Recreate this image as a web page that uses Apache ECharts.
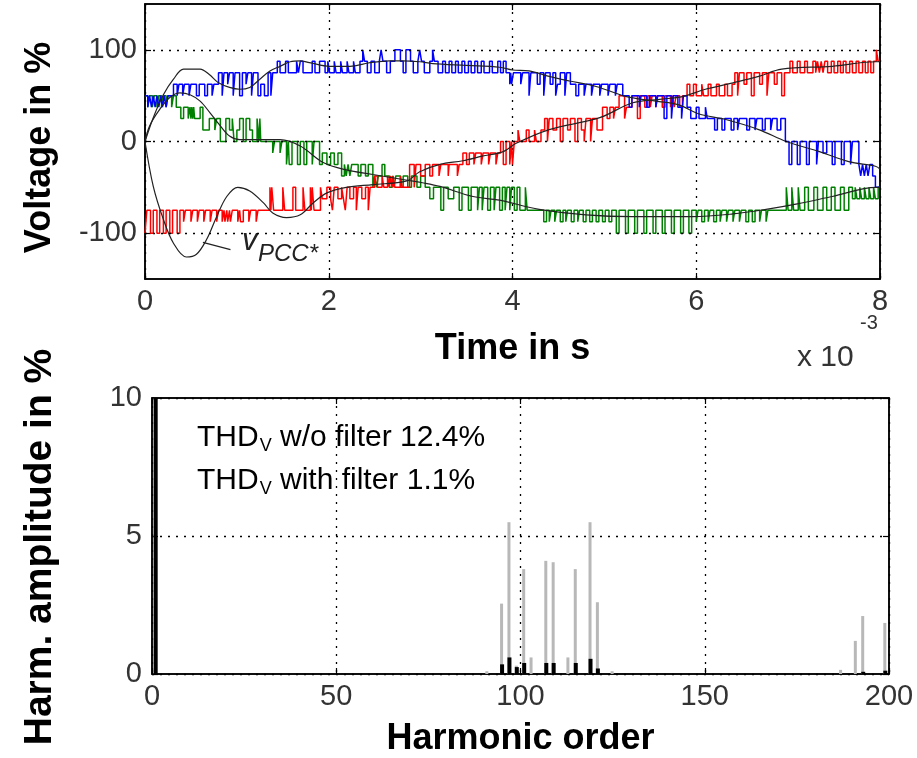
<!DOCTYPE html>
<html><head><meta charset="utf-8">
<script src="https://cdn.jsdelivr.net/npm/echarts@6/dist/echarts.min.js"></script>
<style>html,body{margin:0;padding:0;background:#fff}#c{width:917px;height:758px}</style>
</head><body><div id="c"></div>
<script>
// ---- top plot: stepped phase voltages [time in ms, voltage %] ----
const blueSteps = [[0,50],[0.03,37.5],[0.05,50],[0.07,37.5],[0.09,50],[0.11,37.5],[0.13,50],[0.15,37.5],[0.17,50],[0.19,37.5],[0.21,50],[0.23,37.5],[0.25,50],
[0.31,62.5],[0.35,50],[0.37,62.5],[0.41,50],[0.43,62.5],[0.48,50],[0.50,62.5],[0.56,50],[0.59,62.5],[0.65,50],[0.68,62.5],[0.73,50],[0.75,62.5],
[0.80,75],[0.84,50],[0.86,75],[0.90,62.5],[0.92,75],[0.96,50],[0.98,75],[1.03,50],[1.06,75],[1.10,62.5],[1.12,75],[1.16,50],[1.18,75],[1.23,50],[1.26,62.5],[1.30,50],[1.34,75],[1.37,50],[1.39,75],
[1.44,87.5],[1.47,75],[1.53,87.5],[1.56,75],[1.65,87.5],[1.67,75],[1.69,87.5],[1.72,75],[1.82,87.5],[1.85,75],[1.90,87.5],[1.96,75],[1.99,87.5],[2.01,75],[2.06,87.5],[2.08,75],[2.13,87.5],[2.15,75],[2.20,87.5],[2.22,75],[2.27,87.5],[2.29,75],[2.34,87.5],[2.37,100],[2.39,87.5],[2.42,75],[2.46,87.5],[2.50,75],[2.55,87.5],[2.57,100],[2.59,87.5],[2.63,75],[2.67,87.5],[2.72,100],[2.78,87.5],[2.81,75],[2.84,100],[2.89,87.5],[2.92,75],[2.97,87.5],[2.99,100],[3.01,87.5],[3.04,75],[3.10,87.5],[3.13,100],[3.15,87.5],[3.19,75],[3.24,87.5],[3.27,75],[3.31,87.5],[3.34,75],[3.38,87.5],[3.41,75],[3.45,87.5],[3.48,75],[3.52,87.5],[3.55,75],[3.59,87.5],[3.62,75],[3.66,87.5],[3.69,75],[3.75,87.5],[3.78,75],[3.84,87.5],[3.87,75],[3.90,87.5],[3.93,75],
[3.97,62.5],[3.98,75],[3.99,62.5],[4.01,75],[4.09,62.5],[4.11,75],[4.18,50],[4.20,75],[4.27,62.5],[4.30,75],[4.34,50],[4.36,75],[4.41,62.5],[4.44,75],[4.47,50],[4.49,62.5],[4.52,75],[4.57,50],[4.59,75],[4.63,62.5],[4.69,50],[4.72,62.5],[4.78,50],[4.80,62.5],[4.86,50],[4.88,62.5],[4.95,50],[4.97,62.5],[5.04,50],[5.06,62.5],[5.12,50],[5.14,62.5],[5.20,50],[5.27,37.5],[5.30,50],[5.38,37.5],[5.40,50],[5.46,37.5],[5.49,50],[5.56,37.5],[5.58,50],[5.65,25],[5.68,50],[5.73,25],[5.75,50],[5.80,37.5],[5.84,25],[5.86,50],[5.90,37.5],[5.94,25],[6.00,37.5],[6.03,25],[6.10,37.5],[6.12,25],
[6.20,12.5],[6.23,25],[6.28,12.5],[6.31,25],[6.38,12.5],[6.41,25],[6.45,12.5],[6.47,25],[6.55,12.5],[6.58,25],[6.64,12.5],[6.66,25],[6.72,12.5],[6.75,25],[6.81,12.5],[6.83,25],[6.88,12.5],[6.92,25],[6.97,0],[7.01,-25],[7.04,0],[7.10,-25],[7.13,0],[7.20,-25],[7.23,0],[7.31,-25],[7.33,0],[7.38,-12.5],[7.42,0],[7.48,-25],[7.51,0],[7.58,-25],[7.61,0],[7.68,-25],[7.70,0],[7.77,-25],[7.79,-37.5],[7.81,-25],[7.83,-37.5],[7.85,-25],[7.87,-37.5],[7.89,-25],[7.92,-37.5],[7.95,-50],[8,-50]];

const redSteps = [[0,-100],[0.02,-75],[0.06,-100],[0.09,-75],[0.13,-100],[0.16,-75],[0.20,-100],[0.23,-75],[0.27,-100],[0.30,-75],[0.35,-100],[0.38,-75],
[0.42,-87.5],[0.44,-75],[0.50,-87.5],[0.52,-75],[0.57,-87.5],[0.59,-75],[0.64,-87.5],[0.66,-75],[0.71,-87.5],[0.73,-75],[0.78,-87.5],[0.80,-75],[0.84,-87.5],[0.86,-75],[0.87,-87.5],[0.89,-75],[0.90,-87.5],[0.92,-75],[0.93,-87.5],[0.95,-75],[1.01,-87.5],[1.03,-75],[1.04,-87.5],[1.07,-75],[1.13,-87.5],[1.15,-75],[1.21,-87.5],[1.23,-75],
[1.36,-50],[1.37,-75],[1.38,-50],[1.40,-75],[1.50,-50],[1.52,-75],[1.61,-50],[1.64,-75],[1.72,-50],[1.74,-75],[1.80,-50],[1.81,-75],[1.82,-50],[1.84,-75],[1.91,-50],[1.93,-62.5],[1.98,-50],[2.02,-62.5],[2.04,-75],[2.06,-50],[2.10,-62.5],[2.14,-50],[2.16,-62.5],[2.18,-75],[2.20,-50],[2.23,-62.5],[2.27,-50],[2.30,-75],[2.32,-50],[2.36,-62.5],[2.40,-50],[2.43,-75],[2.45,-50],
[2.50,-37.5],[2.53,-50],[2.58,-37.5],[2.60,-50],[2.64,-37.5],[2.66,-50],[2.67,-37.5],[2.69,-50],[2.70,-37.5],[2.72,-50],[2.78,-37.5],[2.80,-50],
[2.88,-25],[2.93,-50],[2.95,-25],[3.00,-37.5],[3.05,-25],[3.10,-37.5],[3.13,-25],[3.20,-37.5],[3.22,-25],[3.30,-37.5],[3.31,-25],[3.40,-37.5],[3.42,-25],
[3.46,-12.5],[3.50,-25],[3.53,-12.5],[3.58,-25],[3.60,-12.5],[3.66,-25],[3.68,-12.5],[3.74,-25],[3.76,-12.5],[3.82,-25],[3.84,-12.5],[3.87,0],[3.90,-25],[3.93,0],[3.97,-25],[3.99,0],[4.00,-25],[4.02,0],[4.06,12.5],[4.08,0],[4.15,12.5],[4.18,0],[4.24,12.5],[4.26,0],[4.31,12.5],
[4.35,25],[4.38,0],[4.40,25],[4.44,12.5],[4.48,25],[4.52,0],[4.55,25],[4.60,12.5],[4.63,25],[4.68,0],[4.71,25],[4.75,12.5],[4.78,0],[4.80,25],[4.85,0],[4.87,25],[4.92,12.5],
[4.98,37.5],[5.03,25],[5.06,37.5],[5.10,25],[5.12,37.5],[5.16,50],[5.22,25],[5.24,37.5],[5.30,50],[5.36,25],[5.39,50],[5.44,37.5],[5.47,50],[5.50,37.5],[5.52,50],[5.56,37.5],[5.58,50],[5.63,37.5],[5.66,50],[5.72,37.5],[5.74,50],[5.76,37.5],[5.78,50],[5.82,37.5],[5.85,50],
[5.90,62.5],[5.93,50],[5.97,62.5],[6.00,50],[6.06,62.5],[6.08,50],[6.13,62.5],[6.16,50],[6.22,62.5],[6.25,50],[6.31,62.5],[6.34,50],[6.39,62.5],
[6.42,75],[6.45,50],[6.47,75],[6.52,62.5],[6.55,75],[6.60,50],[6.63,75],[6.69,62.5],[6.72,75],[6.77,50],[6.79,75],[6.85,62.5],[6.88,75],[6.93,50],[6.96,75],[7.02,87.5],[7.05,75],[7.10,87.5],[7.13,75],[7.18,87.5],[7.21,75],[7.27,87.5],
[7.30,75],[7.32,87.5],[7.34,75],[7.36,87.5],[7.38,75],[7.40,87.5],[7.43,75],[7.47,87.5],[7.50,75],[7.54,87.5],[7.57,75],[7.60,87.5],[7.63,75],[7.67,87.5],[7.70,75],[7.74,87.5],[7.77,75],[7.81,87.5],[7.84,75],[7.87,87.5],[7.90,75],[7.93,87.5],[7.96,100],[7.98,87.5],[8,87.5]];

const greenSteps = [[0,50],[0.03,37.5],[0.05,50],[0.08,37.5],[0.10,50],[0.13,37.5],[0.15,50],[0.18,37.5],[0.20,50],[0.23,37.5],[0.25,50],[0.29,37.5],[0.31,50],
[0.34,37.5],[0.39,25],[0.42,37.5],[0.47,25],[0.49,37.5],[0.50,25],[0.51,37.5],[0.52,25],[0.53,37.5],[0.54,25],[0.60,37.5],[0.63,12.5],[0.70,25],[0.76,12.5],[0.78,25],[0.82,0],[0.88,25],[0.92,12.5],[0.95,25],[0.97,0],[1.00,12.5],[1.03,25],[1.07,0],[1.10,25],[1.14,12.5],[1.17,0],[1.22,25],[1.24,0],[1.25,25],[1.26,0],
[1.39,-12.5],[1.41,0],[1.47,-12.5],[1.49,0],[1.54,-25],[1.56,0],[1.57,-25],[1.60,0],[1.66,-25],[1.69,0],[1.73,-25],[1.76,0],[1.82,-25],[1.84,0],[1.90,-25],[1.93,-12.5],[1.98,-25],[2.02,-12.5],[2.06,-25],[2.10,-12.5],
[2.14,-37.5],[2.17,-25],[2.19,-37.5],[2.21,-25],[2.23,-37.5],[2.25,-25],[2.32,-37.5],[2.35,-25],[2.40,-37.5],[2.43,-25],[2.48,-50],[2.50,-37.5],[2.52,-50],[2.54,-37.5],[2.58,-25],[2.61,-37.5],[2.66,-50],[2.69,-37.5],[2.71,-50],[2.73,-37.5],[2.78,-50],[2.81,-37.5],[2.86,-50],[2.90,-37.5],[2.96,-50],[3.00,-37.5],[3.05,-50],
[3.10,-62.5],[3.14,-50],[3.22,-75],[3.25,-50],[3.30,-62.5],[3.36,-50],[3.42,-75],[3.45,-50],[3.52,-75],[3.55,-50],[3.62,-75],[3.64,-50],[3.67,-75],[3.69,-50],[3.73,-75],[3.76,-50],[3.80,-75],[3.82,-50],[3.86,-75],[3.89,-50],[3.92,-75],[3.94,-50],[3.97,-75],[3.99,-50],[4.02,-75],[4.05,-50],[4.08,-75],[4.14,-50],[4.16,-75],
[4.34,-87.5],[4.37,-75],[4.40,-87.5],[4.42,-75],[4.46,-87.5],[4.48,-75],[4.52,-87.5],[4.55,-75],[4.58,-87.5],[4.60,-75],[4.64,-87.5],[4.67,-75],[4.71,-87.5],[4.73,-75],[4.77,-87.5],[4.80,-75],[4.84,-87.5],[4.87,-75],[4.91,-87.5],[4.94,-75],[4.98,-87.5],[5.01,-75],[5.05,-87.5],[5.08,-75],
[5.13,-100],[5.16,-75],[5.23,-100],[5.26,-75],[5.33,-100],[5.36,-75],[5.43,-100],[5.46,-75],[5.53,-100],[5.56,-75],[5.63,-100],[5.66,-75],[5.73,-100],[5.76,-75],[5.83,-100],[5.86,-75],[5.92,-100],[5.95,-75],
[6.00,-87.5],[6.02,-75],[6.06,-87.5],[6.09,-75],[6.13,-87.5],[6.15,-75],[6.19,-87.5],[6.22,-75],[6.26,-87.5],[6.28,-75],[6.33,-87.5],[6.35,-75],[6.40,-87.5],[6.42,-75],[6.47,-87.5],[6.49,-75],[6.54,-87.5],[6.57,-75],[6.61,-87.5],[6.64,-75],[6.69,-87.5],[6.71,-75],[6.76,-87.5],[6.78,-75],
[6.98,-50],[7.00,-75],[7.04,-50],[7.06,-75],[7.11,-50],[7.13,-75],[7.18,-50],[7.22,-75],[7.28,-50],[7.32,-75],[7.38,-50],[7.42,-75],[7.47,-50],[7.51,-75],[7.57,-50],[7.61,-75],[7.66,-50],[7.70,-62.5],[7.73,-50],[7.75,-62.5],[7.78,-50],[7.80,-62.5],[7.83,-50],[7.85,-62.5],[7.88,-50],[7.90,-62.5],[7.93,-50],[7.95,-62.5],[7.98,-50],[8,-50]];

// ---- top plot: filtered voltages (black) [time in ms, voltage %] ----
const blueFiltered = [[0,0],[0.09,26],[0.2,51],[0.31,68],[0.42,79],[0.6,79],[0.7,73],[0.8,64],[0.92,59],[1.03,57],[1.14,59],[1.25,68],[1.36,77],[1.47,82],[1.58,87],[1.69,88],[1.79,86],[2.01,82],[2.23,82],[2.45,86],[2.66,88],[2.8,88],[2.99,87],[3.13,85],[3.5,83],[3.86,81],[4.0,78],[4.18,77],[4.4,71],[4.62,66],[4.91,60],[5.24,49],[5.56,44],[5.81,40],[6.03,30],[6.32,24],[6.68,13],[6.98,0],[7.34,-11],[7.66,-22],[7.95,-27],[8,-30]];
const greenFiltered = [[0,0],[0.05,17],[0.16,35],[0.27,48],[0.38,53],[0.49,51],[0.6,44],[0.71,31],[0.82,17],[0.92,6],[1.03,2],[1.25,2],[1.47,2],[1.69,-5],[1.94,-23],[2.19,-31],[2.48,-36],[2.84,-42],[3.02,-45],[3.21,-49],[3.57,-60],[3.86,-64],[4.29,-74],[4.8,-80],[5.3,-82],[5.96,-82],[6.4,-79],[6.76,-74],[7.1,-68],[7.48,-60],[7.96,-50],[8,-50]];
const redFiltered = [[0,0],[0.09,-49],[0.2,-85],[0.31,-111],[0.45,-126],[0.56,-123],[0.67,-107],[0.78,-82],[0.89,-60],[1.01,-50],[1.14,-54],[1.29,-67],[1.39,-78],[1.54,-83],[1.69,-80],[1.83,-67],[1.98,-56],[2.19,-50],[2.48,-47],[2.85,-43],[2.99,-33],[3.21,-25],[3.46,-21],[3.67,-16],[3.9,-11],[4.04,-2],[4.4,13],[4.95,26],[5.3,42],[5.6,46],[5.85,49],[6.1,57],[6.4,64],[6.68,71],[6.93,79],[7.48,82],[7.96,87],[8,87]];
const pccLabelLeader = [[0.63,-110],[0.93,-118]];
const voltTicks = [-100, 0, 100];

// ---- bottom plot: harmonic spectrum ----
const harmOrders   = [1, 91, 95, 97, 99, 101, 103, 107, 109, 113, 115, 119, 121, 125, 187, 191, 193, 199];
const harmNoFilter = [100, 0.1, 2.55, 5.5, 0.3, 3.8, 0.6, 4.1, 4.05, 0.6, 3.8, 5.5, 2.6, 0.1, 0.15, 1.2, 2.1, 1.85];
const harmFilter   = [100, 0, 0.35, 0.6, 0.25, 0.4, 0, 0.4, 0.4, 0, 0.4, 0.55, 0.2, 0, 0, 0, 0.08, 0.12];
const thdLines = [['THD', 'V', ' w/o filter 12.4%'], ['THD', 'V', ' with filter 1.1%']];

const FONT = '"Liberation Sans", Arial, sans-serif';
const dotted = {type:[2,6], color:'#000', width:1.3};
const lbl = {fontFamily:FONT, fontSize:29, color:'#333'};
const nameStyle = {fontFamily:FONT, fontSize:36, fontWeight:'bold', color:'#000'};
const tick = {show:true, inside:true, length:6, lineStyle:{color:'#000', width:1.2}};
const aLine = {show:true, onZero:false, lineStyle:{color:'#000', width:1.5}};

function stepSeries(data, color){
  return {type:'line', xAxisIndex:0, yAxisIndex:0, data:data, step:'end', symbol:'none',
    lineStyle:{color:color, width:1.5}, z:3, animation:false};
}
function blackSeries(data){
  return {type:'line', xAxisIndex:0, yAxisIndex:0, data:data, smooth:0.35, symbol:'none',
    lineStyle:{color:'#222', width:1.2}, z:4, animation:false};
}

const chart = echarts.init(document.getElementById('c'), null, {renderer:'canvas'});
const thdRich = {a:{fontFamily:FONT, fontSize:30, color:'#222'}, b:{fontFamily:FONT, fontSize:18, color:'#222', padding:[16,0,0,1]}};
const option = {
  animation:false,
  backgroundColor:'#fff',
  grid:[
    {left:145, top:4, width:735, height:275, show:true, borderColor:'#000', borderWidth:1.5, backgroundColor:'#fff'},
    {left:152, top:398, width:737, height:277, show:true, borderColor:'#000', borderWidth:1.5, backgroundColor:'#fff'}
  ],
  xAxis:[
    {gridIndex:0, type:'value', min:0, max:8, interval:2, name:'Time in s', nameLocation:'middle', nameGap:52, nameTextStyle:nameStyle,
     axisLine:aLine, axisTick:tick, axisLabel:Object.assign({margin:8}, lbl), splitLine:{show:true, lineStyle:dotted}},
    {gridIndex:0, type:'value', position:'top', min:0, max:8, interval:2, axisLine:aLine, axisTick:tick, axisLabel:{show:false}, splitLine:{show:false}},
    {gridIndex:1, type:'value', min:0, max:200, interval:50, name:'Harmonic order', nameLocation:'middle', nameGap:47, nameTextStyle:nameStyle,
     axisLine:aLine, axisTick:tick, axisLabel:Object.assign({margin:8}, lbl), splitLine:{show:true, lineStyle:dotted}},
    {gridIndex:1, type:'value', position:'top', min:0, max:200, interval:50, axisLine:aLine, axisTick:tick, axisLabel:{show:false}, splitLine:{show:false}}
  ],
  yAxis:[
    {gridIndex:0, type:'value', min:-150, max:150, interval:50, name:'Voltage in %', nameLocation:'middle', nameRotate:90, nameGap:87,
     nameTextStyle:Object.assign({}, nameStyle, {padding:[0,12,0,0]}),
     axisLine:aLine, axisTick:Object.assign({customValues:voltTicks}, tick),
     axisLabel:Object.assign({margin:8, customValues:voltTicks, formatter:function(v){return voltTicks.indexOf(v)>=0 ? String(v) : '';}}, lbl),
     splitLine:{show:false}},
    {gridIndex:0, type:'value', position:'right', min:-150, max:150, interval:50, axisLine:aLine, axisTick:Object.assign({customValues:voltTicks}, tick), axisLabel:{show:false}, splitLine:{show:false}},
    {gridIndex:1, type:'value', min:0, max:10, interval:5, name:'Harm. amplitude in %', nameLocation:'middle', nameRotate:90, nameGap:92,
     nameTextStyle:Object.assign({}, nameStyle, {fontSize:39, padding:[0,22,0,0]}),
     axisLine:aLine, axisTick:tick, axisLabel:Object.assign({margin:10}, lbl), splitLine:{show:true, lineStyle:dotted}},
    {gridIndex:1, type:'value', position:'right', min:0, max:10, interval:5, axisLine:aLine, axisTick:tick, axisLabel:{show:false}, splitLine:{show:false}}
  ],
  series:[
    {type:'line', xAxisIndex:0, yAxisIndex:0, data:[], symbol:'none', silent:true, z:1,
     markLine:{silent:true, symbol:['none','none'], label:{show:false}, lineStyle:dotted, animation:false,
       data: voltTicks.map(function(v){return {yAxis:v};})}},
    stepSeries(greenSteps, '#008000'),
    stepSeries(redSteps, '#ff0000'),
    stepSeries(blueSteps, '#0000ff'),
    blackSeries(blueFiltered),
    blackSeries(greenFiltered),
    Object.assign(blackSeries(redFiltered), {
      markLine:{silent:true, symbol:['none','none'], label:{show:false}, animation:false,
        lineStyle:{color:'#222', width:1.2, type:'solid'},
        data:[[{coord:pccLabelLeader[0]}, {coord:pccLabelLeader[1]}]]}
    }),
    {type:'bar', xAxisIndex:2, yAxisIndex:2, name:'w/o filter', data:harmOrders.map(function(h,i){return [h, harmNoFilter[i]];}),
     barWidth:3, barGap:'-100%', itemStyle:{color:'#b8b8b8'}, clip:true, z:2, animation:false},
    {type:'bar', xAxisIndex:2, yAxisIndex:2, name:'with filter', data:harmOrders.map(function(h,i){return [h, harmFilter[i]];}),
     barWidth:4, barGap:'-100%', itemStyle:{color:'#000'}, clip:true, z:3, animation:false}
  ],
  graphic:[
    {type:'text', left:797, top:343, style:{text:'x 10', fontFamily:FONT, fontSize:30, fill:'#333'}},
    {type:'text', left:860, top:313, style:{text:'-3', fontFamily:FONT, fontSize:20, fill:'#333'}},
    {type:'text', left:242, top:226, style:{text:'v', fontFamily:FONT, fontSize:31, fontStyle:'italic', fill:'#222'}},
    {type:'text', left:258, top:242, style:{text:'PCC*', fontFamily:FONT, fontSize:24, fontStyle:'italic', fill:'#222'}},
    {type:'text', left:197, top:423, z:10, style:{text:'{a|' + thdLines[0][0] + '}{b|' + thdLines[0][1] + '}{a|' + thdLines[0][2] + '}', rich:thdRich}},
    {type:'text', left:197, top:466, z:10, style:{text:'{a|' + thdLines[1][0] + '}{b|' + thdLines[1][1] + '}{a|' + thdLines[1][2] + '}', rich:thdRich}}
  ]
};
chart.setOption(option);
</script></body></html>
